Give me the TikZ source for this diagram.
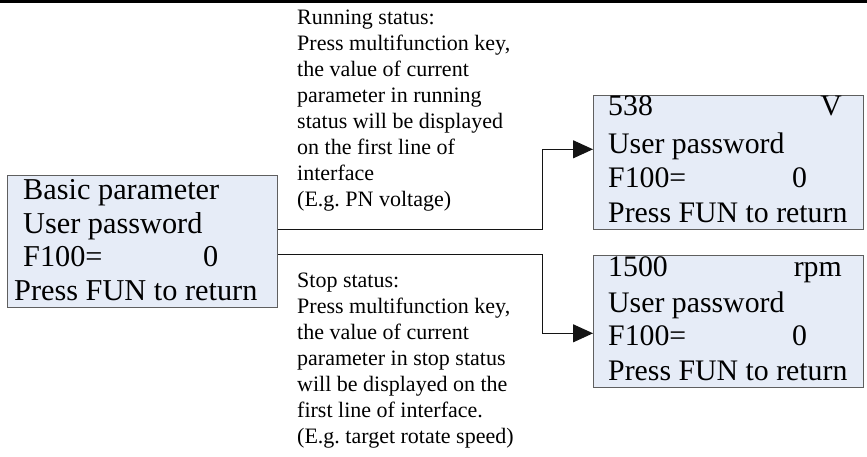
\documentclass[tikz,border=0pt]{standalone}
\usepackage{fontspec}
\setmainfont{Liberation Serif}
\usetikzlibrary{arrows.meta}
\definecolor{boxfill}{RGB}{230,236,247}
\definecolor{boxline}{RGB}{95,95,95}
\definecolor{connline}{RGB}{20,20,20}
\frenchspacing
\begin{document}
\begin{tikzpicture}[x=1pt,y=-1pt,
  lcdbox/.style={draw=boxline, fill=boxfill, line width=1.2pt, inner sep=0pt, anchor=north west},
  lcdtxt/.style={anchor=base west, inner sep=0pt, font=\fontsize{29.8}{30}\selectfont},
  lcdtxtl/.style={anchor=base west, inner sep=0pt, font=\fontsize{30.3}{31}\selectfont},
  lcdtxtr/.style={anchor=base east, inner sep=0pt, font=\fontsize{29.8}{30}\selectfont},
  note/.style={anchor=base west, inner sep=0pt, font=\fontsize{22}{26}\selectfont},
  conn/.style={draw=connline, line width=1.1pt},
  tip/.style={-{Triangle[length=20pt,width=18pt]}}
]
\useasboundingbox (0,0) rectangle (867,456);
\fill[black] (0,0) rectangle (867,2.7);

% left box
\node[lcdbox, minimum width=270pt, minimum height=132pt] (L) at (7,175) {};
\node[lcdtxtl] (L1) at (23,199) {Basic parameter};
\node[lcdtxtl] (L2) at (23,233) {User password};
\node[lcdtxtl] (L3) at (23,266) {F100=};
\node[lcdtxtl] (L3v) at (203,266) {0};
\node[lcdtxtl] (L4) at (14,300) {Press FUN to return};

% right top box
\node[lcdbox, minimum width=270pt, minimum height=134pt] (R1) at (593,95) {};
\node[lcdtxt] (R1a) at (608,115) {538};
\node[lcdtxtr] (R1u) at (842,115) {V};
\node[lcdtxt] (R1b) at (608,153) {User password};
\node[lcdtxt] (R1c) at (608,187) {F100=};
\node[lcdtxt] (R1v) at (792,187) {0};
\node[lcdtxt] (R1d) at (608,222) {Press FUN to return};

% right bottom box
\node[lcdbox, minimum width=270pt, minimum height=132pt] (R2) at (593,255) {};
\node[lcdtxt] (R2a) at (608,276) {1500};
\node[lcdtxtr] (R2u) at (842,276) {rpm};
\node[lcdtxt] (R2b) at (608,312) {User password};
\node[lcdtxt] (R2c) at (608,345) {F100=};
\node[lcdtxt] (R2v) at (792,345) {0};
\node[lcdtxt] (R2d) at (608,380) {Press FUN to return};

% notes
\foreach \t [count=\i from 0] in {{Running status:},{Press multifunction key,},{the value of current},{parameter in running},{status will be displayed},{on the first line of},{interface},{(E.g. PN voltage)}}
  \node[note] (run\i) at (297,24.5+26*\i) {\t};
\foreach \t [count=\i from 0] in {{Stop status:},{Press multifunction key,},{the value of current},{parameter in stop status},{will be displayed on the},{first line of interface.},{(E.g. target rotate speed)}}
  \node[note] (stop\i) at (297,287+26*\i) {\t};

% connectors
\coordinate (a1) at (L.east |- 0,229.3);
\coordinate (a2) at (L.east |- 0,254.3);
\draw[conn,tip] (a1) -- ++(264,0) |- (R1.west |- 0,149.3);
\draw[conn,tip] (a2) -- ++(264,0) |- (R2.west |- 0,333.3);
\end{tikzpicture}
\end{document}
